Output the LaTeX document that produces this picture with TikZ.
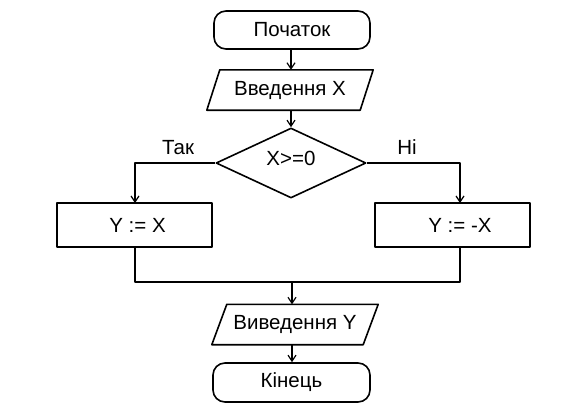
\documentclass[tikz,border=0pt]{standalone}
\usepackage{fontspec}
\setmainfont{Liberation Sans}
\usetikzlibrary{arrows.meta,shapes.geometric}
\tikzset{
  ln/.style={line width=1.6pt, line join=round},
  arr/.style={ln, -{Straight Barb[length=6pt,width=8pt,line width=1.2pt]}},
  term/.style={ln, draw, rectangle, rounded corners=12pt, minimum width=156pt, minimum height=38pt, inner sep=0pt},
  io/.style={rectangle, minimum height=40pt, inner sep=0pt},
  proc/.style={ln, draw, rectangle, minimum width=155pt, minimum height=44pt, inner sep=0pt},
  dec/.style={ln, draw, diamond, aspect=2.14, minimum width=150pt, minimum height=70pt, inner sep=0pt},
  lbl/.style={inner sep=0pt}
}
\begin{document}
\begin{tikzpicture}[x=1pt,y=-1pt, font=\fontsize{20.5}{22}\selectfont]
\path[use as bounding box, fill=white] (0,0) rectangle (574,416);

\node[term] (start) at (292,30) {Початок};

\node[io, minimum width=153pt] (in) at (290,90) {Введення X};
\draw[ln] ([xshift=6.5pt]in.north west) -- ([xshift=6.5pt]in.north east)
  -- ([xshift=-6.5pt]in.south east) -- ([xshift=-6.5pt]in.south west) -- cycle;

\node[dec] (d) at (291,163) {\raisebox{9pt}{X>=0}};

\node[proc] (l) at (134.5,225) {\hspace*{6pt}Y := X};
\node[proc] (r) at (452.5,225) {\hspace*{15pt}Y := -X};

\coordinate (rx) at (460,203);
\coordinate (lx) at (135,203);
\coordinate (m) at (292,282);

\node[io, minimum width=151pt] (out) at (295,324.5) {Виведення Y};
\draw[ln] ([xshift=7.5pt]out.north west) -- ([xshift=7.5pt]out.north east)
  -- ([xshift=-7.5pt]out.south east) -- ([xshift=-7.5pt]out.south west) -- cycle;

\node[term, minimum width=157pt, minimum height=39pt] (end) at (291.5,382.5) {Кінець};

\node[lbl] at (178,148) {Так};
\node[lbl] at (407,147) {Ні};

\draw[arr] (start.south -| 291,0) -- (in.north -| 291,0);
\draw[arr] (in.south -| 291,0) -- (d.north);
\draw[arr] (d.west) -| (lx);
\draw[arr] (d.east) -| (rx);
\draw[ln] (l.south -| lx) |- (m) -| (r.south -| rx);
\draw[arr] (m) -- (m |- out.north);
\draw[arr] (out.south -| m) -- (end.north -| m);
\end{tikzpicture}
\end{document}
